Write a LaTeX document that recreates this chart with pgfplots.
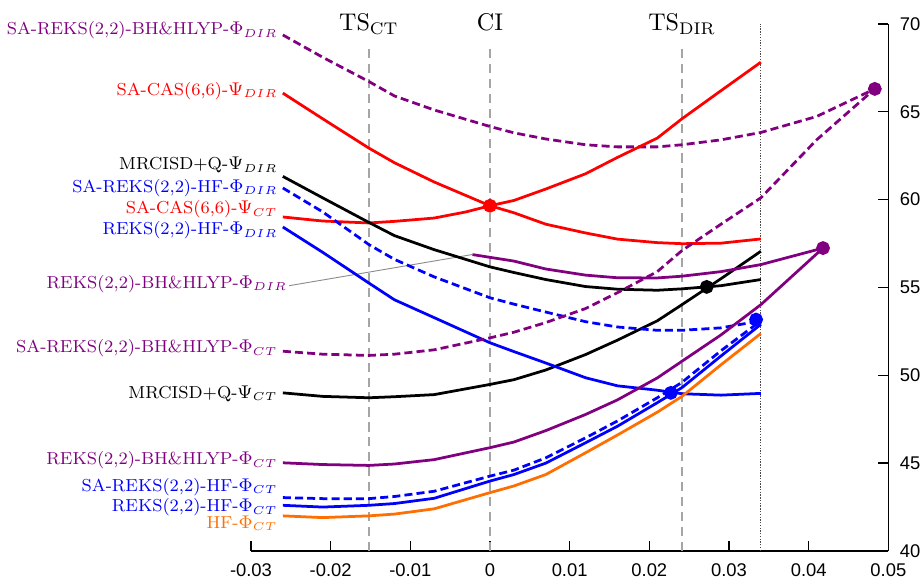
\documentclass[border=0pt]{standalone}
\usepackage{fontspec}
\usepackage{pgfplots}
\pgfplotsset{compat=1.18}
\newfontfamily\arial{Liberation Sans}

\definecolor{cred}{RGB}{255,0,0}
\definecolor{cpurple}{RGB}{128,0,128}
\definecolor{cblue}{RGB}{0,0,255}
\definecolor{corange}{RGB}{255,110,0}
\definecolor{cgray}{RGB}{165,165,165}

\newcommand{\lab}{\fontsize{7.55}{9}\selectfont}
\newcommand{\toplab}{\fontsize{10.5}{13}\selectfont}

\begin{document}
\begin{tikzpicture}
\begin{axis}[
    scale only axis,
    width=277.4pt, height=229.4pt,
    xmin=-0.03, xmax=0.05,
    ymin=40, ymax=70,
    axis x line*=bottom,
    axis y line*=right,
    xtick={-0.03,-0.02,-0.01,0,0.01,0.02,0.03,0.04,0.05},
    ytick={40,45,50,55,60,65,70},
    scaled x ticks=false,
    /pgf/number format/assume math mode=true,
    xticklabel style={/pgf/number format/fixed, /pgf/number format/precision=2, yshift=-2.2pt},
    yticklabel style={xshift=1.5pt},
    tick label style={font=\arial\fontsize{8}{9.5}\selectfont},
    tick align=inside,
    major tick length=4.3pt,
    axis line style={line width=0.6pt},
    tick style={line width=0.6pt, black},
    clip=false,
    every axis plot/.append style={line width=1.2pt},
]

% reference geometries
\addplot[cgray, line width=0.6pt, dash pattern=on 4pt off 2.5pt] coordinates {(-0.0152,40) (-0.0152,68.58)};
\addplot[cgray, line width=0.6pt, dash pattern=on 4pt off 2.5pt] coordinates {(0,40) (0,68.58)};
\addplot[cgray, line width=0.6pt, dash pattern=on 4pt off 2.5pt] coordinates {(0.0241,40) (0.0241,68.58)};
\addplot[black!70, line width=0.5pt, dash pattern=on 0.6pt off 0.6pt] coordinates {(0.034,40) (0.034,70)};

% leader line
\addplot[black!45, line width=0.4pt] coordinates {(-0.0252,55.1) (-0.00226,56.87)};

% SA-REKS(2,2)-BH&HLYP Phi_DIR
\addplot[cpurple, dash pattern=on 3.5pt off 1.8pt] coordinates {
(-0.026,69.37) (-0.021,68.1) (-0.0152,66.72) (-0.012,65.9) (-0.007,65.1) (0,64.16)
(0.003,63.8) (0.007,63.45) (0.012,63.12) (0.016,63.0) (0.021,63.0) (0.0241,63.12)
(0.029,63.4) (0.034,63.82) (0.041,64.73) (0.0483,66.3)};

% SA-CAS(6,6) Psi_DIR
\addplot[cred] coordinates {
(-0.026,66.06) (-0.021,64.6) (-0.0152,62.93) (-0.012,62.1) (-0.007,61.0) (0,59.65)
(0.003,59.25) (0.007,58.6) (0.012,58.1) (0.016,57.75) (0.021,57.55) (0.0241,57.49)
(0.029,57.52) (0.034,57.76)};

% SA-CAS(6,6) Psi_CT
\addplot[cred] coordinates {
(-0.026,59.01) (-0.021,58.78) (-0.0152,58.67) (-0.012,58.76) (-0.007,58.95) (-0.003,59.3)
(0,59.65) (0.003,59.95) (0.007,60.6) (0.012,61.47) (0.016,62.4) (0.021,63.5)
(0.0241,64.6) (0.029,66.2) (0.034,67.82)};

% MRCISD+Q Psi_DIR
\addplot[black] coordinates {
(-0.026,61.32) (-0.021,60.1) (-0.0152,58.7) (-0.012,57.95) (-0.007,57.15) (0,56.17)
(0.003,55.85) (0.007,55.45) (0.012,55.05) (0.016,54.9) (0.021,54.84) (0.0241,54.92)
(0.029,55.1) (0.034,55.45)};

% MRCISD+Q Psi_CT
\addplot[black] coordinates {
(-0.026,49.0) (-0.021,48.8) (-0.0152,48.72) (-0.012,48.78) (-0.007,48.9) (0,49.48)
(0.003,49.75) (0.007,50.3) (0.012,51.18) (0.016,52.0) (0.021,53.1) (0.0241,54.02)
(0.029,55.5) (0.034,57.06)};

% SA-REKS(2,2)-HF Phi_DIR
\addplot[cblue, dash pattern=on 3.5pt off 1.8pt] coordinates {
(-0.026,60.66) (-0.021,59.3) (-0.0152,57.44) (-0.012,56.6) (-0.007,55.6) (0,54.41)
(0.003,54.05) (0.007,53.6) (0.012,53.05) (0.016,52.75) (0.021,52.56) (0.0241,52.56)
(0.029,52.7) (0.034,53.1)};

% REKS(2,2)-HF Phi_DIR
\addplot[cblue] coordinates {
(-0.026,58.44) (-0.021,57.0) (-0.0152,55.25) (-0.012,54.3) (-0.007,53.28) (0,51.85)
(0.003,51.35) (0.007,50.7) (0.012,49.86) (0.016,49.4) (0.021,49.15) (0.0241,48.95)
(0.029,48.87) (0.034,48.97)};

% REKS(2,2)-BH&HLYP Phi_DIR
\addplot[cpurple] coordinates {
(-0.0022,56.87) (0.003,56.5) (0.007,56.05) (0.012,55.7) (0.016,55.55) (0.021,55.54)
(0.0241,55.64) (0.029,55.9) (0.034,56.3) (0.0418,57.24)};

% SA-REKS(2,2)-BH&HLYP Phi_CT
\addplot[cpurple, dash pattern=on 3.5pt off 1.8pt] coordinates {
(-0.026,51.37) (-0.021,51.2) (-0.0152,51.13) (-0.012,51.2) (-0.007,51.45) (0,52.13)
(0.003,52.45) (0.007,53.0) (0.012,53.8) (0.016,54.7) (0.021,55.9) (0.0241,57.1)
(0.029,58.6) (0.034,60.1) (0.041,63.4) (0.0483,66.3)};

% REKS(2,2)-BH&HLYP Phi_CT
\addplot[cpurple] coordinates {
(-0.026,45.02) (-0.021,44.92) (-0.0152,44.87) (-0.012,44.95) (-0.007,45.2) (0,45.88)
(0.003,46.2) (0.007,46.85) (0.012,47.77) (0.016,48.6) (0.021,49.85) (0.0241,50.8)
(0.029,52.3) (0.034,54.02) (0.0418,57.24)};

% SA-REKS(2,2)-HF Phi_CT
\addplot[cblue, dash pattern=on 3.5pt off 1.8pt] coordinates {
(-0.026,43.04) (-0.021,42.98) (-0.0152,42.98) (-0.012,43.1) (-0.007,43.4) (0,44.26)
(0.003,44.6) (0.007,45.3) (0.012,46.44) (0.016,47.4) (0.021,48.72) (0.0241,49.6)
(0.029,51.4) (0.034,53.1)};

% REKS(2,2)-HF Phi_CT
\addplot[cblue] coordinates {
(-0.026,42.6) (-0.021,42.5) (-0.0152,42.6) (-0.012,42.7) (-0.007,43.0) (0,43.98)
(0.003,44.35) (0.007,45.0) (0.012,46.16) (0.016,47.1) (0.021,48.44) (0.0241,49.3)
(0.029,51.1) (0.034,52.9)};

% HF Phi_CT
\addplot[corange] coordinates {
(-0.026,42.0) (-0.021,41.9) (-0.0152,42.0) (-0.012,42.1) (-0.007,42.4) (0,43.32)
(0.003,43.7) (0.007,44.35) (0.012,45.59) (0.016,46.6) (0.021,47.9) (0.0241,48.8)
(0.029,50.6) (0.034,52.38)};

% crossing points
\addplot[only marks, mark=*, mark size=2.4pt, cred] coordinates {(0,59.65)};
\addplot[only marks, mark=*, mark size=2.4pt, black] coordinates {(0.0272,55.03)};
\addplot[only marks, mark=*, mark size=2.4pt, cblue] coordinates {(0.0227,49.0) (0.0334,53.17)};
\addplot[only marks, mark=*, mark size=2.4pt, cpurple] coordinates {(0.0418,57.24) (0.0483,66.3)};

% geometry labels
\node[anchor=base, font=\toplab] at (axis cs:-0.0152,69.6) {TS$_{\mathrm{CT}}$};
\node[anchor=base, font=\toplab] at (axis cs:0,69.6) {CI};
\node[anchor=base, font=\toplab] at (axis cs:0.0241,69.6) {TS$_{\mathrm{DIR}}$};

% curve labels
\begin{scope}[every node/.style={anchor=base east, inner sep=0pt, font=\lab}]
\node[text=cpurple] at (axis cs:-0.0266,69.37) {SA-REKS(2,2)-BH\&HLYP-$\Phi_{DIR}$};
\node[text=cred] at (axis cs:-0.0266,65.92) {SA-CAS(6,6)-$\Psi_{DIR}$};
\node[text=black] at (axis cs:-0.0266,61.7) {MRCISD+Q-$\Psi_{DIR}$};
\node[text=cblue] at (axis cs:-0.0266,60.41) {SA-REKS(2,2)-HF-$\Phi_{DIR}$};
\node[text=cred] at (axis cs:-0.0266,59.18) {SA-CAS(6,6)-$\Psi_{CT}$};
\node[text=cblue] at (axis cs:-0.0266,57.99) {REKS(2,2)-HF-$\Phi_{DIR}$};
\node[text=cpurple] at (axis cs:-0.0254,54.95) {REKS(2,2)-BH\&HLYP-$\Phi_{DIR}$};
\node[text=cpurple] at (axis cs:-0.0266,51.28) {SA-REKS(2,2)-BH\&HLYP-$\Phi_{CT}$};
\node[text=black] at (axis cs:-0.0266,48.7) {MRCISD+Q-$\Psi_{CT}$};
\node[text=cpurple] at (axis cs:-0.0266,44.91) {REKS(2,2)-BH\&HLYP-$\Phi_{CT}$};
\node[text=cblue] at (axis cs:-0.0266,43.39) {SA-REKS(2,2)-HF-$\Phi_{CT}$};
\node[text=cblue] at (axis cs:-0.0266,42.22) {REKS(2,2)-HF-$\Phi_{CT}$};
\node[text=corange] at (axis cs:-0.0266,41.27) {HF-$\Phi_{CT}$};
\end{scope}

\coordinate (bbl) at (axis cs:-0.0615,38.22);
\coordinate (btr) at (axis cs:0.0541,71.36);
\end{axis}
\pgfresetboundingbox
\path[use as bounding box] (bbl) rectangle (btr);
\end{tikzpicture}
\end{document}
